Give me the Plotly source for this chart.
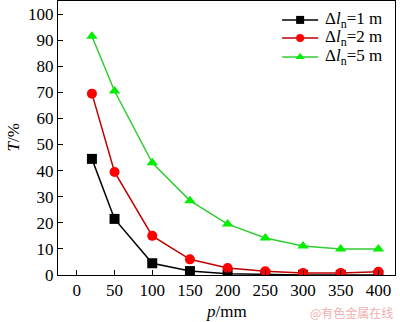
import plotly.graph_objects as go

p = [20, 50, 100, 150, 200, 250, 300, 350, 400]
t_1m = [44.5, 21.5, 4.5, 1.5, 0.5, 0.2, 0.0, 0.0, 0.0]
t_2m = [69.5, 39.5, 15.0, 6.0, 2.7, 1.4, 0.8, 0.8, 1.2]
t_5m = [91.5, 70.5, 43.0, 28.5, 19.5, 14.2, 11.1, 10.0, 10.0]
labels = ["Δ<i>l</i><sub>n</sub>=1 m", "Δ<i>l</i><sub>n</sub>=2 m", "Δ<i>l</i><sub>n</sub>=5 m"]
xticks = [0, 50, 100, 150, 200, 250, 300, 350, 400]
yticks = list(range(0, 101, 10))

styles = [
    ("#000000", "#000000", "square"),
    ("#c00000", "#ff0000", "circle"),
    ("#33cc33", "#00ee00", "triangle-up"),
]

font = "Liberation Serif, Times New Roman, serif"
fig = go.Figure()
for name, ys, (lc, mc, sym) in zip(labels, [t_1m, t_2m, t_5m], styles):
    fig.add_trace(go.Scatter(
        x=p, y=ys, name=name, mode="lines+markers", showlegend=False,
        line=dict(color=lc, width=1.5),
        marker=dict(symbol=sym, size=10, color=mc, line=dict(width=0)),
    ))

# manual legend (row height matched to reference), drawn in an overlay [0,1] axis pair
leg_rows = [0.931, 0.865, 0.796]
leg_x0, leg_x1, leg_txt = 0.665, 0.772, 0.785
for name, yy, (lc, mc, sym) in zip(labels, leg_rows, styles):
    fig.add_trace(go.Scatter(
        x=[leg_x0, leg_x1], y=[yy, yy], mode="lines", showlegend=False,
        xaxis="x2", yaxis="y2", line=dict(color=lc, width=1.5), hoverinfo="skip"))
    fig.add_trace(go.Scatter(
        x=[(leg_x0 + leg_x1) / 2], y=[yy], mode="markers", showlegend=False,
        xaxis="x2", yaxis="y2", hoverinfo="skip",
        marker=dict(symbol=sym, size=8, color=mc, line=dict(width=0))))
    fig.add_annotation(text=name, xref="paper", yref="paper", x=leg_txt, y=yy,
                       xanchor="left", yanchor="middle", showarrow=False,
                       font=dict(family=font, size=17, color="black"))

fig.update_layout(
    width=400, height=322,
    margin=dict(l=58, r=5, t=1, b=47),
    paper_bgcolor="white", plot_bgcolor="white",
    font=dict(family=font, size=17, color="black"),
    showlegend=False,
    xaxis=dict(range=[-25, 422], tickvals=xticks,
               ticks="inside", ticklen=5, tickcolor="black", showgrid=False, zeroline=False,
               showline=True, linecolor="black", linewidth=1, mirror=True,
               tickfont=dict(size=17)),
    yaxis=dict(range=[0, 105], tickvals=yticks,
               ticks="inside", ticklen=5, tickcolor="black", showgrid=False, zeroline=False,
               showline=True, linecolor="black", linewidth=1, mirror=True,
               tickfont=dict(size=17)),
    xaxis2=dict(overlaying="x", range=[0, 1], visible=False),
    yaxis2=dict(overlaying="y", range=[0, 1], visible=False),
)
fig.add_annotation(text="<i>p</i>/mm", xref="paper", yref="paper", x=0.5, y=-0.132,
                   xanchor="center", yanchor="middle", showarrow=False,
                   font=dict(family=font, size=17, color="black"))
fig.add_annotation(text="<i>T</i>/%", xref="paper", yref="paper", x=-0.135, y=0.5,
                   xanchor="center", yanchor="middle", showarrow=False, textangle=-90,
                   font=dict(family=font, size=17, color="black"))
fig.add_annotation(text="@有色金属在线", xref="paper", yref="paper", x=1.0, y=-0.138,
                   xanchor="right", yanchor="middle", showarrow=False,
                   font=dict(family="Noto Sans CJK SC", size=12, color="#f0b0b0"))
fig.write_html("out.html")
